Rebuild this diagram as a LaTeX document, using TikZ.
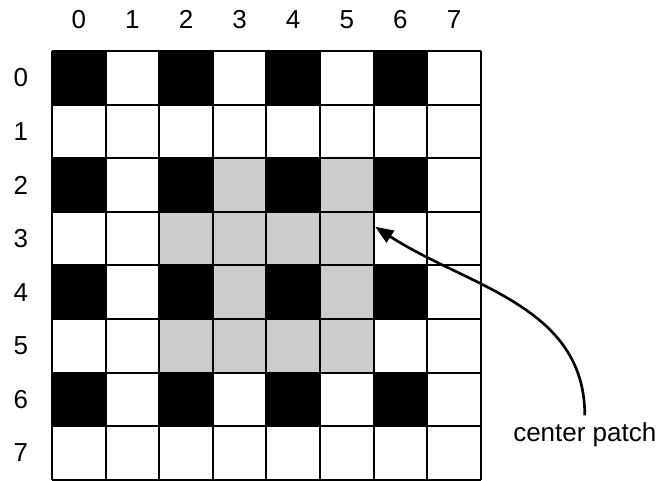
\documentclass[tikz,border=0pt]{standalone}
\usepackage{fontspec}
\setmainfont{Liberation Sans}
\usetikzlibrary{arrows.meta}
\definecolor{patchgray}{RGB}{204,204,204}
\begin{document}
\begin{tikzpicture}[line width=1pt, >={Triangle[length=0.34cm,width=0.26cm]}, font=\fontsize{13.8}{16}\selectfont]
	\useasboundingbox (-0.97,0.951) rectangle (11.399,-8.02);
	% black squares
	\foreach \x in {0,2,4,6} {
		\foreach \y in {0,2,4,6} {
			\fill[black] (\x, -\y) rectangle ++(1,-1);
		}
	}
	% center patch
	\foreach \x / \y in {3/2, 5/2, 2/3, 3/3, 4/3, 5/3, 3/4, 5/4, 2/5, 3/5, 4/5, 5/5} {
		\fill[patchgray] (\x, -\y) rectangle ++(1,-1);
	}
	\draw (0,0) grid (8,-8);
	% labels
	\foreach \i in {0,...,7} {
		\node (col\i) at (\i+0.5, 0.59) {\i};
		\node (row\i) at (-0.58, -\i-0.5) {\i};
	}
	\node (patchlabel) at (9.94,-7.16) {center patch};
	\coordinate (patchtip) at (6.03,-3.28);
	\draw[->, line width=1.4pt] (patchlabel.north) to[out=90, in=-33] (patchtip);
\end{tikzpicture}
\end{document}
